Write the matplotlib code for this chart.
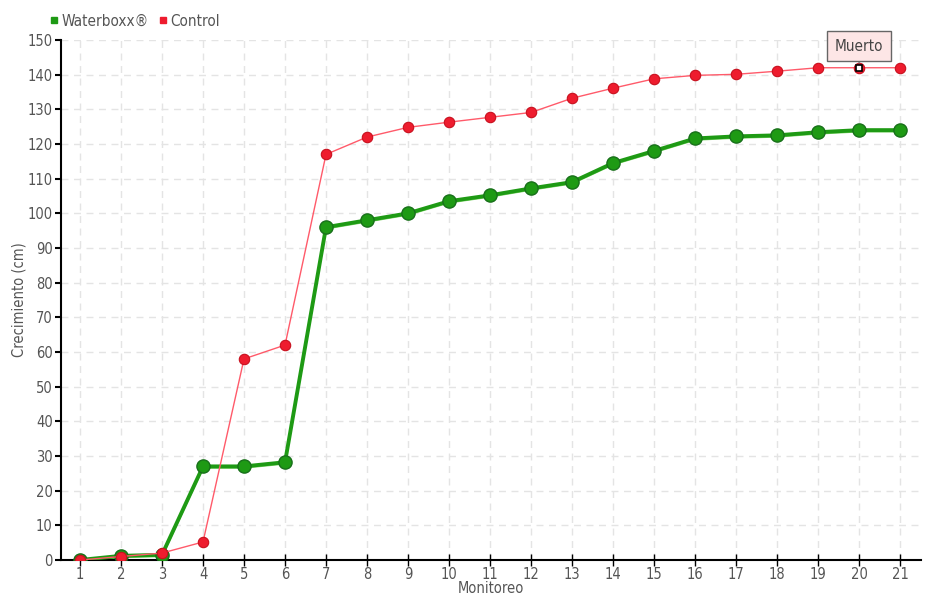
import matplotlib
matplotlib.use("Agg")
import matplotlib.pyplot as plt
import matplotlib.transforms as mtransforms
from matplotlib.lines import Line2D

plt.rcParams['font.family'] = ['DejaVu Sans']
plt.rcParams['font.stretch'] = 'condensed'

monitoreo = list(range(1, 22))
waterboxx = [0, 1.2, 1.5, 27, 27, 28.2, 96, 98, 100, 103.5, 105.2, 107.2, 109,
             114.5, 118, 121.6, 122.2, 122.5, 123.4, 124, 124]
control = [0, 1, 2, 5.2, 58, 62, 117, 122, 124.8, 126.3, 127.7, 129.1, 133.2,
           136.1, 138.8, 139.8, 140.1, 141, 142, 142, 142]
ytick_vals = list(range(0, 151, 10))
annot_idx = 19
annot_text = "Muerto"
legend_labels = ["Waterboxx®", "Control"]
xlabel = "Monitoreo"
ylabel = "Crecimiento (cm)"

green = "#1e9a14"
green_light = "#7fd46a"
red_line = "#ff5a6a"
red_mark = "#ee1c2e"
grey_txt = "#555555"
fs = 10.5

fig = plt.figure(figsize=(9.4, 6), dpi=100)
ax = fig.add_axes([61/940, 40/600, (921-61)/940, 520/600])

ax.set_xlim(0.537, 21.51)
ax.set_ylim(0, 150)

# grid
for v in ytick_vals[1:]:
    ax.axhline(v, color="#e4e4e4", lw=1, ls=(0, (5, 4)), zorder=0)
for v in monitoreo:
    ax.axvline(v, color="#e4e4e4", lw=1, ls=(0, (5, 4)), zorder=0)

# light green shadow line
shift = mtransforms.offset_copy(ax.transData, fig=fig, x=0, y=-1.5, units='dots')
ax.plot(monitoreo, waterboxx, color=green_light, lw=1.3, transform=shift, zorder=2)
ax.plot(monitoreo, waterboxx, color=green, lw=2.8, zorder=3,
        marker='o', ms=9.5, mfc=green, mec="#18701a", mew=1)
ax.plot(monitoreo, control, color=red_line, lw=1, zorder=4,
        marker='o', ms=7.5, mfc=red_mark, mec="#c8101e", mew=0.8)

# highlighted point + annotation
ax.plot([monitoreo[annot_idx]], [control[annot_idx]], marker='s', ms=4.5,
        mfc='white', mec='black', mew=1.2, zorder=6, ls='none')
ax.annotate(annot_text, xy=(monitoreo[annot_idx], control[annot_idx]),
            xytext=(0, 15.5), textcoords='offset points', ha='center', va='center',
            fontsize=11, color="#444444",
            bbox=dict(boxstyle='square,pad=0.5', fc='#fde6e6', ec='#666666', lw=1),
            arrowprops=dict(arrowstyle='-', color='#666666', lw=0.8,
                            shrinkA=0, shrinkB=3),
            zorder=7)

# spines
for s in ['top', 'right']:
    ax.spines[s].set_visible(False)
ax.spines['left'].set_linewidth(1.5)
ax.spines['bottom'].set_linewidth(1.5)

ax.set_yticks(ytick_vals)
ax.set_xticks(monitoreo)
ax.tick_params(axis='y', direction='out', length=4, width=1.5, colors='black',
               labelcolor=grey_txt, labelsize=fs, pad=2)
ax.tick_params(axis='x', direction='inout', length=8, width=1, colors='black',
               labelcolor=grey_txt, labelsize=fs, pad=1)

ax.set_xlabel(xlabel, color=grey_txt, fontsize=fs, labelpad=-1)
ax.set_ylabel(ylabel, color=grey_txt, fontsize=fs, labelpad=1)

# legend
handles = [Line2D([], [], ls='none', marker='s', ms=4, mfc=green, mec=green),
           Line2D([], [], ls='none', marker='s', ms=4, mfc=red_mark, mec=red_mark)]
fig.legend(handles, legend_labels, loc='center left', bbox_to_anchor=(42/940, 1-21/600),
           ncol=2, frameon=False, fontsize=fs+0.5, labelcolor=grey_txt,
           handlelength=0.6, handletextpad=0.2, columnspacing=0.6, borderpad=0)

fig.savefig("out.png", dpi=100)
